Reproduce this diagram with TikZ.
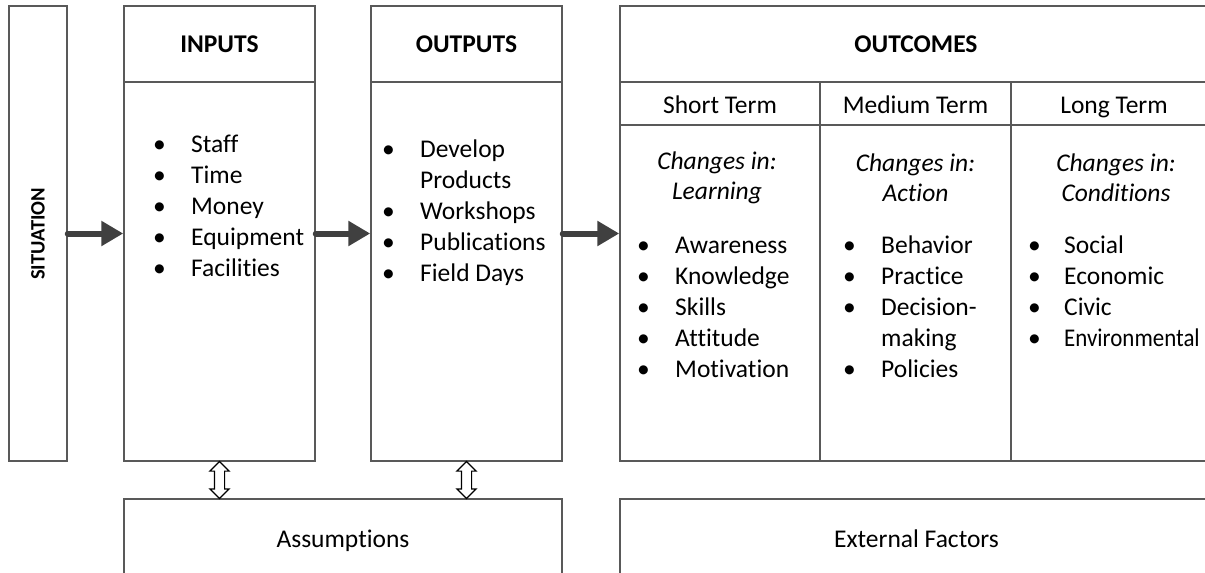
\documentclass[tikz,border=0pt]{standalone}
\usepackage{fontspec}
\setmainfont{Carlito}[Ligatures={NoCommon}]
\usetikzlibrary{arrows.meta, shapes.arrows}

\tikzset{
    box/.style={draw=black!65, line width=1.5pt, inner sep=0pt},
    flow/.style={draw=black!75, line width=6pt, line cap=round, -{Triangle[length=22pt, width=24pt]}},
    dbl/.style={shape=double arrow, draw, line width=1.2pt, fill=white, rotate=90,
        minimum height=37pt, inner sep=4.5pt, double arrow head extend=4.5pt},
    txt/.style={font=\fontsize{25.5}{31}\selectfont, inner sep=0pt},
    head/.style={txt, font=\fontsize{25.5}{31}\selectfont\bfseries},
    lst/.style={txt, anchor=base west},
}

\begin{document}
\begin{tikzpicture}[x=1pt, y=-1pt]
    \useasboundingbox (0,0) rectangle (1205,573);
    \clip (0,0) rectangle (1205,573);

    % helper levels for the header lines and column rules
    \coordinate (hline) at (0,82);
    \coordinate (sline) at (0,125);
    \coordinate (col1) at (820,0);
    \coordinate (col2) at (1011,0);

    % The main boxes
    \node[box, minimum width=58pt, minimum height=455pt] (sit) at (38,233.5) {};
    \node[box, minimum width=191pt, minimum height=455pt] (inputs) at (219.5,233.5) {};
    \node[box, minimum width=191pt, minimum height=455pt] (outputs) at (466.5,233.5) {};
    \node[box, minimum width=593pt, minimum height=455pt] (outc) at (916.5,233.5) {};

    \draw[box] (inputs.west |- hline) -- (inputs.east |- hline);
    \draw[box] (outputs.west |- hline) -- (outputs.east |- hline);
    \draw[box] (outc.west |- hline) -- (outc.east |- hline);
    \draw[box] (outc.west |- sline) -- (outc.east |- sline);
    \draw[box] (col1 |- hline) -- (col1 |- outc.south);
    \draw[box] (col2 |- hline) -- (col2 |- outc.south);

    % Bottom boxes
    \node[box, minimum width=438pt, minimum height=78pt] (assump) at (343,538) {};
    \node[box, minimum width=593pt, minimum height=78pt] (extf) at (916.5,538) {};
    \node[txt, anchor=base] (assumptxt) at (343,547) {Assumptions};
    \node[txt, anchor=base] (extftxt) at (916.5,547) {External Factors};

    % Headings
    \node[txt, rotate=90, font=\fontsize{20.5}{24}\selectfont\bfseries] (sittxt) at (38,234) {SITUATION};
    \node[head] (inhead) at (219.5,44) {INPUTS};
    \node[head] (outhead) at (466.5,44) {OUTPUTS};
    \node[head] (outchead) at (916,44) {OUTCOMES};
    \node[txt, anchor=base] (short) at (720,113) {Short Term};
    \node[txt, anchor=base] (medium) at (915.5,113) {Medium Term};
    \node[txt, anchor=base] (long) at (1114,113) {Long Term};

    % Changes in ...
    \node[txt, align=center, font=\fontsize{25.5}{30}\selectfont\itshape] (chs) at (717,178) {Changes in:\\Learning};
    \node[txt, align=center, font=\fontsize{25.5}{30}\selectfont\itshape] (chm) at (915.5,178) {Changes in:\\Action};
    \node[txt, align=center, font=\fontsize{25.5}{30}\selectfont\itshape] (chl) at (1116,178) {Changes in:\\Conditions};

    % Bullet lists
    \node[lst] (inlist) at (153,152.5) {\begin{tabular}[t]{@{}p{38pt}@{}l@{}}
        \textbullet & Staff\\ \textbullet & Time\\ \textbullet & Money\\
        \textbullet & Equipment\\ \textbullet & Facilities\end{tabular}};
    \node[lst] (outlist) at (382,157.5) {\begin{tabular}[t]{@{}p{38pt}@{}l@{}}
        \textbullet & Develop\\ & Products\\ \textbullet & Workshops\\
        \textbullet & Publications\\ \textbullet & Field Days\end{tabular}};
    \node[lst] (slist) at (637,253.5) {\begin{tabular}[t]{@{}p{38pt}@{}l@{}}
        \textbullet & Awareness\\ \textbullet & Knowledge\\ \textbullet & Skills\\
        \textbullet & Attitude\\ \textbullet & Motivation\end{tabular}};
    \node[lst] (mlist) at (843,253.5) {\begin{tabular}[t]{@{}p{38pt}@{}l@{}}
        \textbullet & Behavior\\ \textbullet & Practice\\ \textbullet & Decision-\\
        & making\\ \textbullet & Policies\end{tabular}};
    \node[lst] (llist) at (1028,253.5) {\begin{tabular}[t]{@{}p{36pt}@{}l@{}}
        \textbullet & Social\\ \textbullet & Economic\\ \textbullet & Civic\\
        \textbullet & \scalebox{0.9}[1]{Environmental}\end{tabular}};

    % Flow arrows
    \draw[flow] (sit.east) -- (inputs.west);
    \draw[flow] (inputs.east) -- (outputs.west);
    \draw[flow] (outputs.east) -- (outc.west);

    % Two-way arrows to the assumptions
    \path (inputs.south) -- (inputs.south |- assump.north) node[midway, dbl] (dbl1) {};
    \path (outputs.south) -- (outputs.south |- assump.north) node[midway, dbl] (dbl2) {};
\end{tikzpicture}
\end{document}
